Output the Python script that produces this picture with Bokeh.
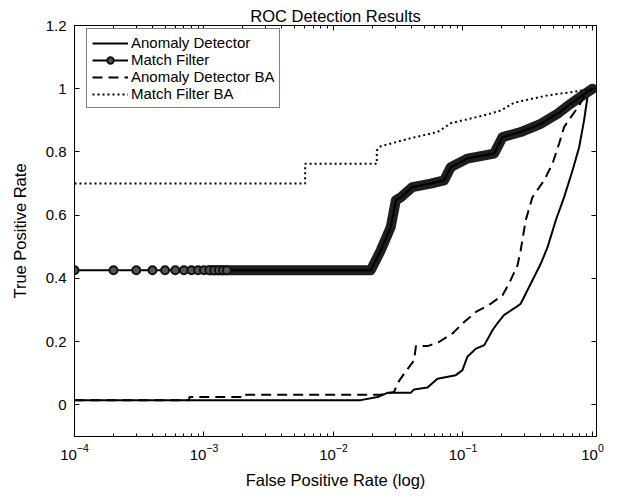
from bokeh.plotting import figure
from bokeh.models import (Range1d, LogAxis, LinearAxis, FixedTicker, LogTicker,
                          Legend, LegendItem, CustomJSTickFormatter)
from bokeh.embed import file_html
from bokeh.resources import INLINE

# ---------------- data ----------------
ad_fpr = [1e-4, 0.01626, 0.0219, 0.0261, 0.0395, 0.0419, 0.0532, 0.0635, 0.0879,
          0.0991, 0.108, 0.126, 0.146, 0.169, 0.185, 0.207, 0.248, 0.279, 0.334,
          0.376, 0.399, 0.450, 0.521, 0.604, 0.702, 0.789, 0.861, 0.914, 1.0]
ad_tpr = [0.015, 0.015, 0.025, 0.038, 0.038, 0.049, 0.055, 0.083, 0.094,
          0.110, 0.152, 0.178, 0.189, 0.236, 0.259, 0.284, 0.305, 0.320, 0.384,
          0.426, 0.447, 0.499, 0.584, 0.657, 0.742, 0.815, 0.900, 0.973, 1.0]

mf_fpr = [1e-4, 0.0194, 0.0232, 0.0277, 0.0303, 0.0331, 0.0407, 0.0563, 0.0714,
          0.0805, 0.108, 0.174, 0.202, 0.279, 0.399, 0.537, 0.681, 0.838, 1.0]
mf_tpr = [0.426, 0.426, 0.489, 0.563, 0.647, 0.657, 0.689, 0.700, 0.710,
          0.752, 0.779, 0.795, 0.847, 0.863, 0.889, 0.921, 0.953, 0.979, 1.0]
# individually visible markers of the Match Filter curve
mf_marker_fpr = [0.0001, 0.0002, 0.0003, 0.0004, 0.0005, 0.0006, 0.0007, 0.0008,
                 0.0009, 0.0010, 0.0011, 0.0012, 0.0013, 0.0014, 0.0015]
mf_marker_tpr = [0.426, 0.426, 0.426, 0.426, 0.426, 0.426, 0.426, 0.426,
                 0.426, 0.426, 0.426, 0.426, 0.426, 0.426, 0.426]

adba_fpr = [1e-4, 7.7e-4, 7.7e-4, 0.00192, 0.00192, 0.0232, 0.0294, 0.0312, 0.0351,
            0.0419, 0.0433, 0.0532, 0.0653, 0.0830, 0.102, 0.126, 0.164, 0.202,
            0.227, 0.264, 0.279, 0.305, 0.344, 0.423, 0.491, 0.552, 0.604, 0.681,
            0.789, 0.883, 1.0]
adba_tpr = [0.015, 0.015, 0.025, 0.025, 0.032, 0.032, 0.041, 0.068, 0.099,
            0.141, 0.186, 0.186, 0.199, 0.226, 0.262, 0.294, 0.320, 0.347,
            0.384, 0.442, 0.489, 0.584, 0.657, 0.710, 0.763, 0.826, 0.879, 0.910,
            0.947, 0.984, 1.0]

mfba_fpr = [1e-4, 0.00604, 0.00604, 0.0216, 0.0216, 0.0232, 0.0303, 0.0381, 0.0635,
            0.0805, 0.146, 0.196, 0.248, 0.450, 0.681, 0.914, 1.0]
mfba_tpr = [0.700, 0.700, 0.763, 0.763, 0.805, 0.818, 0.831, 0.842, 0.863,
            0.891, 0.916, 0.931, 0.956, 0.979, 0.989, 0.997, 1.0]

y_ticks = [0, 0.2, 0.4, 0.6, 0.8, 1.0, 1.2]

FONT = "Liberation Sans"

p = figure(width=617, height=500, x_axis_type="log",
           x_range=Range1d(1e-4, 1.074), y_range=Range1d(-0.1, 1.2),
           output_backend="svg", toolbar_location=None,
           min_border_left=74, min_border_right=21, min_border_top=25,
           min_border_bottom=64)
p.grid.visible = False
p.outline_line_color = "black"
p.background_fill_color = "white"
p.border_fill_color = "white"

p.title.text = "ROC Detection Results"
p.title.align = "center"
p.title.text_font = FONT
p.title.text_font_size = "16.5px"
p.title.text_font_style = "normal"
p.title.text_color = "black"
p.title.standoff = 2

# bottom x axis
xa = p.xaxis[0]
xa.ticker = LogTicker(num_minor_ticks=10)
xa.axis_label = "False Positive Rate (log)"
# left y axis
ya = p.yaxis[0]
ya.ticker = FixedTicker(ticks=y_ticks)
ya.formatter = CustomJSTickFormatter(code="return String(tick);")
ya.axis_label = "True Positive Rate"
ya.minor_tick_line_color = None

for ax in (xa, ya):
    ax.axis_line_color = "black"
    ax.major_tick_line_color = "black"
    ax.minor_tick_line_color = "black" if ax is xa else None
    ax.major_tick_in = 5
    ax.major_tick_out = 0
    ax.minor_tick_in = 3
    ax.minor_tick_out = 0
    ax.major_label_text_font = FONT
    ax.major_label_text_font_size = "15px"
    ax.major_label_text_color = "black"
    ax.axis_label_text_font = FONT
    ax.axis_label_text_font_size = "16.5px"
    ax.axis_label_text_font_style = "normal"
    ax.axis_label_text_color = "black"
xa.major_label_standoff = 7
xa.axis_label_standoff = 8
ya.major_label_standoff = 8
ya.axis_label_standoff = 14

# mirrored axes (box) - tick marks only
top = LogAxis(ticker=LogTicker(num_minor_ticks=10), major_tick_in=5, major_tick_out=0,
              minor_tick_in=3, minor_tick_out=0, major_label_text_font_size="1px",
              major_label_text_alpha=0, major_label_standoff=0,
              axis_line_color="black", major_tick_line_color="black",
              minor_tick_line_color="black")
p.add_layout(top, "above")
right = LinearAxis(ticker=FixedTicker(ticks=y_ticks), major_tick_in=5, major_tick_out=0,
                   minor_tick_line_color=None, major_label_text_font_size="1px",
                   major_label_text_alpha=0, major_label_standoff=0,
                   axis_line_color="black", major_tick_line_color="black")
p.add_layout(right, "right")

# ---------------- curves ----------------
r_ad = p.line(ad_fpr, ad_tpr, line_color="black", line_width=2)

band_fpr = [0.0011] + [f for f in mf_fpr if f > 0.0011]
band_tpr = [mf_tpr[0]] + [t for f, t in zip(mf_fpr, mf_tpr) if f > 0.0011]
p.line(band_fpr, band_tpr, line_color="#1e1e1e", line_width=10,
       line_join="round", line_cap="round")
r_mf = p.line(mf_fpr, mf_tpr, line_color="black", line_width=2)
r_mfm = p.scatter(mf_marker_fpr, mf_marker_tpr, marker="circle", size=8,
                  line_color="#111111", line_width=2, fill_color="#555555")

r_adba = p.line(adba_fpr, adba_tpr, line_color="black", line_width=2,
                line_dash="10 6")
r_mfba = p.line(mfba_fpr, mfba_tpr, line_color="black", line_width=2,
                line_dash="2 3")

legend = Legend(items=[
    LegendItem(label="Anomaly Detector", renderers=[r_ad]),
    LegendItem(label="Match Filter", renderers=[r_mf, r_mfm]),
    LegendItem(label="Anomaly Detector BA", renderers=[r_adba]),
    LegendItem(label="Match Filter BA", renderers=[r_mfba]),
], location=(12, 328))
legend.label_text_font = FONT
legend.label_text_font_size = "15px"
legend.label_text_color = "black"
legend.glyph_width = 36
legend.glyph_height = 16
legend.label_height = 16
legend.label_standoff = 3
legend.spacing = 0
legend.padding = 5
legend.margin = 0
legend.border_line_color = "black"
legend.border_line_width = 1
legend.background_fill_alpha = 1
p.add_layout(legend, "center")

open("out.html", "w").write(file_html(p, INLINE))
